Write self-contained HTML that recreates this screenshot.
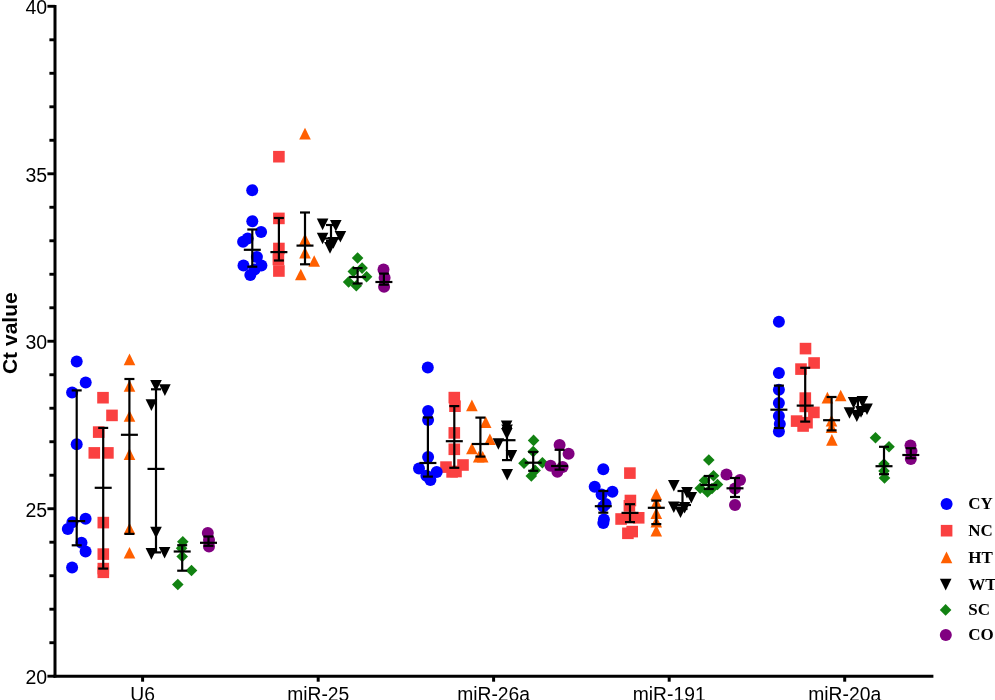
<!DOCTYPE html>
<html><head><meta charset="utf-8"><title>Ct value chart</title>
<style>
html,body{margin:0;padding:0;background:#fff;}
body{width:995px;height:700px;overflow:hidden;font-family:"Liberation Sans",sans-serif;}
svg{display:block;will-change:transform;}
</style></head>
<body>
<svg width="995" height="700" viewBox="0 0 995 700">
<rect width="995" height="700" fill="#fff"/>
<g stroke="#000" stroke-width="3" fill="none" stroke-linecap="butt">
<line x1="55" y1="5" x2="55" y2="677.4"/>
<line x1="53.5" y1="676.2" x2="933.4" y2="676.2"/>
</g>
<g stroke="#000" stroke-width="2.9" fill="none">
<line x1="47.4" y1="6.3" x2="55" y2="6.3"/>
<line x1="49.4" y1="39.8" x2="55" y2="39.8"/>
<line x1="49.4" y1="73.29" x2="55" y2="73.29"/>
<line x1="49.4" y1="106.79" x2="55" y2="106.79"/>
<line x1="49.4" y1="140.28" x2="55" y2="140.28"/>
<line x1="47.4" y1="173.78" x2="55" y2="173.78"/>
<line x1="49.4" y1="207.27" x2="55" y2="207.27"/>
<line x1="49.4" y1="240.77" x2="55" y2="240.77"/>
<line x1="49.4" y1="274.26" x2="55" y2="274.26"/>
<line x1="49.4" y1="307.76" x2="55" y2="307.76"/>
<line x1="47.4" y1="341.25" x2="55" y2="341.25"/>
<line x1="49.4" y1="374.75" x2="55" y2="374.75"/>
<line x1="49.4" y1="408.24" x2="55" y2="408.24"/>
<line x1="49.4" y1="441.74" x2="55" y2="441.74"/>
<line x1="49.4" y1="475.23" x2="55" y2="475.23"/>
<line x1="47.4" y1="508.73" x2="55" y2="508.73"/>
<line x1="49.4" y1="542.22" x2="55" y2="542.22"/>
<line x1="49.4" y1="575.72" x2="55" y2="575.72"/>
<line x1="49.4" y1="609.21" x2="55" y2="609.21"/>
<line x1="49.4" y1="642.71" x2="55" y2="642.71"/>
<line x1="47.4" y1="676.2" x2="55" y2="676.2"/>
<line x1="142.6" y1="676.2" x2="142.6" y2="681.7" stroke-width="3"/>
<line x1="318.2" y1="676.2" x2="318.2" y2="681.7" stroke-width="3"/>
<line x1="493.6" y1="676.2" x2="493.6" y2="681.7" stroke-width="3"/>
<line x1="669.2" y1="676.2" x2="669.2" y2="681.7" stroke-width="3"/>
<line x1="844.7" y1="676.2" x2="844.7" y2="681.7" stroke-width="3"/>
</g>
<g font-family="Liberation Sans" font-size="19.5" fill="#000" text-anchor="end">
<text x="47.2" y="14.3">40</text>
<text x="47.2" y="181.78">35</text>
<text x="47.2" y="349.25">30</text>
<text x="47.2" y="516.73">25</text>
<text x="47.2" y="684.2">20</text>
</g>
<g font-family="Liberation Sans" font-size="19.3" fill="#000" text-anchor="middle">
<text x="142.6" y="701">U6</text>
<text x="318.2" y="701">miR-25</text>
<text x="493.6" y="701">miR-26a</text>
<text x="669.2" y="701">miR-191</text>
<text x="844.7" y="701">miR-20a</text>
</g>
<text transform="translate(16.6,333.2) rotate(-90)" font-family="Liberation Sans" font-weight="bold" font-size="21" text-anchor="middle">Ct value</text>
<rect x="97.2" y="391.9" width="11.6" height="11.6" fill="#fa4040"/>
<rect x="106.2" y="409.6" width="11.6" height="11.6" fill="#fa4040"/>
<rect x="92.9" y="426.3" width="11.6" height="11.6" fill="#fa4040"/>
<rect x="88.5" y="447.1" width="11.6" height="11.6" fill="#fa4040"/>
<rect x="102.1" y="447.1" width="11.6" height="11.6" fill="#fa4040"/>
<rect x="97.5" y="516.8" width="11.6" height="11.6" fill="#fa4040"/>
<rect x="97.5" y="548.3" width="11.6" height="11.6" fill="#fa4040"/>
<rect x="97.5" y="562.8" width="11.6" height="11.6" fill="#fa4040"/>
<rect x="97.5" y="566.5" width="11.6" height="11.6" fill="#fa4040"/>
<g stroke="#000" stroke-width="2.2">
<line x1="103.2" y1="427.9" x2="103.2" y2="568.6"/>
<line x1="98.2" y1="427.9" x2="108.2" y2="427.9"/>
<line x1="98.2" y1="568.6" x2="108.2" y2="568.6"/>
<line x1="94.7" y1="487.8" x2="111.7" y2="487.8"/>
</g>
<circle cx="76.7" cy="361.4" r="6" fill="#0000ff"/>
<circle cx="85.7" cy="382.6" r="6" fill="#0000ff"/>
<circle cx="72.1" cy="392.6" r="6" fill="#0000ff"/>
<circle cx="76.7" cy="444.3" r="6" fill="#0000ff"/>
<circle cx="85.6" cy="518.8" r="6" fill="#0000ff"/>
<circle cx="72.4" cy="522.3" r="6" fill="#0000ff"/>
<circle cx="67.8" cy="529.1" r="6" fill="#0000ff"/>
<circle cx="81.5" cy="542.8" r="6" fill="#0000ff"/>
<circle cx="85.6" cy="551.6" r="6" fill="#0000ff"/>
<circle cx="72.1" cy="567.6" r="6" fill="#0000ff"/>
<g stroke="#000" stroke-width="2.2">
<line x1="76.7" y1="390.4" x2="76.7" y2="545.3"/>
<line x1="71.7" y1="390.4" x2="81.7" y2="390.4"/>
<line x1="71.7" y1="545.3" x2="81.7" y2="545.3"/>
<line x1="68.2" y1="521.1" x2="85.2" y2="521.1"/>
</g>
<polygon points="129.5,353.6 135.3,365.2 123.7,365.2" fill="#ff5f00"/>
<polygon points="129.5,380.1 135.3,391.7 123.7,391.7" fill="#ff5f00"/>
<polygon points="129.5,410.2 135.3,421.8 123.7,421.8" fill="#ff5f00"/>
<polygon points="129.5,448.3 135.3,459.9 123.7,459.9" fill="#ff5f00"/>
<polygon points="129.5,522.7 135.3,534.3 123.7,534.3" fill="#ff5f00"/>
<polygon points="129.5,547 135.3,558.6 123.7,558.6" fill="#ff5f00"/>
<g stroke="#000" stroke-width="2.2">
<line x1="129.4" y1="379" x2="129.4" y2="533.9"/>
<line x1="124.4" y1="379" x2="134.4" y2="379"/>
<line x1="124.4" y1="533.9" x2="134.4" y2="533.9"/>
<line x1="120.9" y1="434.8" x2="137.9" y2="434.8"/>
</g>
<polygon points="150.2,380 161.8,380 156,391.6" fill="#000000"/>
<polygon points="159.1,384.3 170.7,384.3 164.9,395.9" fill="#000000"/>
<polygon points="145.6,399.3 157.2,399.3 151.4,410.9" fill="#000000"/>
<polygon points="150.2,526.7 161.8,526.7 156,538.3" fill="#000000"/>
<polygon points="145.6,548.1 157.2,548.1 151.4,559.7" fill="#000000"/>
<polygon points="158.8,547 170.4,547 164.6,558.6" fill="#000000"/>
<g stroke="#000" stroke-width="2.2">
<line x1="156" y1="389.3" x2="156" y2="552.4"/>
<line x1="151" y1="389.3" x2="161" y2="389.3"/>
<line x1="151" y1="552.4" x2="161" y2="552.4"/>
<line x1="147.5" y1="468.9" x2="164.5" y2="468.9"/>
</g>
<polygon points="182.8,536 188.6,541.8 182.8,547.6 177,541.8" fill="#128212"/>
<polygon points="181.6,542.5 187.4,548.3 181.6,554.1 175.8,548.3" fill="#128212"/>
<polygon points="182.2,550.7 188,556.5 182.2,562.3 176.4,556.5" fill="#128212"/>
<polygon points="191.5,564.7 197.3,570.5 191.5,576.3 185.7,570.5" fill="#128212"/>
<polygon points="177.8,578.7 183.6,584.5 177.8,590.3 172,584.5" fill="#128212"/>
<g stroke="#000" stroke-width="2.2">
<line x1="182.2" y1="545.2" x2="182.2" y2="570.7"/>
<line x1="177.2" y1="545.2" x2="187.2" y2="545.2"/>
<line x1="177.2" y1="570.7" x2="187.2" y2="570.7"/>
<line x1="173.7" y1="551.5" x2="190.7" y2="551.5"/>
</g>
<circle cx="207.8" cy="533" r="6" fill="#800080"/>
<circle cx="209" cy="540" r="6" fill="#800080"/>
<circle cx="209" cy="546.5" r="6" fill="#800080"/>
<g stroke="#000" stroke-width="2.2">
<line x1="208.5" y1="536.5" x2="208.5" y2="545.8"/>
<line x1="203.5" y1="536.5" x2="213.5" y2="536.5"/>
<line x1="203.5" y1="545.8" x2="213.5" y2="545.8"/>
<line x1="200" y1="542.8" x2="217" y2="542.8"/>
</g>
<rect x="273.1" y="150.9" width="11.6" height="11.6" fill="#fa4040"/>
<rect x="273.1" y="212.6" width="11.6" height="11.6" fill="#fa4040"/>
<rect x="273.1" y="242.7" width="11.6" height="11.6" fill="#fa4040"/>
<rect x="272.6" y="253.7" width="11.6" height="11.6" fill="#fa4040"/>
<rect x="273.1" y="265.2" width="11.6" height="11.6" fill="#fa4040"/>
<g stroke="#000" stroke-width="2.2">
<line x1="278.9" y1="218" x2="278.9" y2="260.5"/>
<line x1="273.9" y1="218" x2="283.9" y2="218"/>
<line x1="273.9" y1="260.5" x2="283.9" y2="260.5"/>
<line x1="270.4" y1="252.1" x2="287.4" y2="252.1"/>
</g>
<circle cx="252.2" cy="190.2" r="6" fill="#0000ff"/>
<circle cx="252.3" cy="221.2" r="6" fill="#0000ff"/>
<circle cx="261.1" cy="231.9" r="6" fill="#0000ff"/>
<circle cx="247.7" cy="238.6" r="6" fill="#0000ff"/>
<circle cx="243.1" cy="241.8" r="6" fill="#0000ff"/>
<circle cx="256.9" cy="256.9" r="6" fill="#0000ff"/>
<circle cx="261.4" cy="265.4" r="6" fill="#0000ff"/>
<circle cx="243.5" cy="265.4" r="6" fill="#0000ff"/>
<circle cx="254.6" cy="269.4" r="6" fill="#0000ff"/>
<circle cx="250.3" cy="275.1" r="6" fill="#0000ff"/>
<g stroke="#000" stroke-width="2.2">
<line x1="252.3" y1="229.5" x2="252.3" y2="266.7"/>
<line x1="247.3" y1="229.5" x2="257.3" y2="229.5"/>
<line x1="247.3" y1="266.7" x2="257.3" y2="266.7"/>
<line x1="243.8" y1="249.8" x2="260.8" y2="249.8"/>
</g>
<polygon points="305,127.8 310.8,139.4 299.2,139.4" fill="#ff5f00"/>
<polygon points="305,233.4 310.8,245 299.2,245" fill="#ff5f00"/>
<polygon points="305,246.9 310.8,258.5 299.2,258.5" fill="#ff5f00"/>
<polygon points="314.2,255.2 320,266.8 308.4,266.8" fill="#ff5f00"/>
<polygon points="300.8,268.7 306.6,280.3 295,280.3" fill="#ff5f00"/>
<g stroke="#000" stroke-width="2.2">
<line x1="305" y1="212.5" x2="305" y2="264.3"/>
<line x1="300" y1="212.5" x2="310" y2="212.5"/>
<line x1="300" y1="264.3" x2="310" y2="264.3"/>
<line x1="296.5" y1="245.6" x2="313.5" y2="245.6"/>
</g>
<polygon points="316.8,218.6 328.4,218.6 322.6,230.2" fill="#000000"/>
<polygon points="330,220 341.6,220 335.8,231.6" fill="#000000"/>
<polygon points="316.8,232.7 328.4,232.7 322.6,244.3" fill="#000000"/>
<polygon points="334.6,230.9 346.2,230.9 340.4,242.5" fill="#000000"/>
<polygon points="324.2,242.1 335.8,242.1 330,253.7" fill="#000000"/>
<polygon points="327.6,237.1 339.2,237.1 333.4,248.7" fill="#000000"/>
<g stroke="#000" stroke-width="2.2">
<line x1="331" y1="225" x2="331" y2="241"/>
<line x1="326" y1="225" x2="336" y2="225"/>
<line x1="326" y1="241" x2="336" y2="241"/>
<line x1="322.5" y1="238.5" x2="339.5" y2="238.5"/>
</g>
<polygon points="357.6,252.2 363.4,258 357.6,263.8 351.8,258" fill="#128212"/>
<polygon points="362.1,262.3 367.9,268.1 362.1,273.9 356.3,268.1" fill="#128212"/>
<polygon points="353.3,265.7 359.1,271.5 353.3,277.3 347.5,271.5" fill="#128212"/>
<polygon points="366.6,271 372.4,276.8 366.6,282.6 360.8,276.8" fill="#128212"/>
<polygon points="348.6,276.2 354.4,282 348.6,287.8 342.8,282" fill="#128212"/>
<polygon points="356.3,280 362.1,285.8 356.3,291.6 350.5,285.8" fill="#128212"/>
<g stroke="#000" stroke-width="2.2">
<line x1="357.6" y1="268.1" x2="357.6" y2="283.5"/>
<line x1="352.6" y1="268.1" x2="362.6" y2="268.1"/>
<line x1="352.6" y1="283.5" x2="362.6" y2="283.5"/>
<line x1="349.1" y1="277" x2="366.1" y2="277"/>
</g>
<circle cx="383.5" cy="269.6" r="6" fill="#800080"/>
<circle cx="384.6" cy="277.7" r="6" fill="#800080"/>
<circle cx="384.1" cy="286.7" r="6" fill="#800080"/>
<g stroke="#000" stroke-width="2.2">
<line x1="383.9" y1="273.6" x2="383.9" y2="284.7"/>
<line x1="378.9" y1="273.6" x2="388.9" y2="273.6"/>
<line x1="378.9" y1="284.7" x2="388.9" y2="284.7"/>
<line x1="375.4" y1="282" x2="392.4" y2="282"/>
</g>
<rect x="448.5" y="391.8" width="11.6" height="11.6" fill="#fa4040"/>
<rect x="449.2" y="400.4" width="11.6" height="11.6" fill="#fa4040"/>
<rect x="448.5" y="427.1" width="11.6" height="11.6" fill="#fa4040"/>
<rect x="448.5" y="443.5" width="11.6" height="11.6" fill="#fa4040"/>
<rect x="440.2" y="461.3" width="11.6" height="11.6" fill="#fa4040"/>
<rect x="457.2" y="459.2" width="11.6" height="11.6" fill="#fa4040"/>
<rect x="446.3" y="466.1" width="11.6" height="11.6" fill="#fa4040"/>
<rect x="450.2" y="465.7" width="11.6" height="11.6" fill="#fa4040"/>
<g stroke="#000" stroke-width="2.2">
<line x1="454.3" y1="406.1" x2="454.3" y2="467.8"/>
<line x1="449.3" y1="406.1" x2="459.3" y2="406.1"/>
<line x1="449.3" y1="467.8" x2="459.3" y2="467.8"/>
<line x1="445.8" y1="441.2" x2="462.8" y2="441.2"/>
</g>
<circle cx="427.8" cy="367.4" r="6" fill="#0000ff"/>
<circle cx="428.1" cy="411.1" r="6" fill="#0000ff"/>
<circle cx="428.1" cy="420" r="6" fill="#0000ff"/>
<circle cx="428.1" cy="457.1" r="6" fill="#0000ff"/>
<circle cx="419" cy="468.6" r="6" fill="#0000ff"/>
<circle cx="436.7" cy="472.1" r="6" fill="#0000ff"/>
<circle cx="426.4" cy="475.7" r="6" fill="#0000ff"/>
<circle cx="430.4" cy="480" r="6" fill="#0000ff"/>
<g stroke="#000" stroke-width="2.2">
<line x1="427.9" y1="417.5" x2="427.9" y2="476.6"/>
<line x1="422.9" y1="417.5" x2="432.9" y2="417.5"/>
<line x1="422.9" y1="476.6" x2="432.9" y2="476.6"/>
<line x1="419.4" y1="463" x2="436.4" y2="463"/>
</g>
<polygon points="471.9,399.6 477.7,411.2 466.1,411.2" fill="#ff5f00"/>
<polygon points="485.7,416.3 491.5,427.9 479.9,427.9" fill="#ff5f00"/>
<polygon points="489.9,433.4 495.7,445 484.1,445" fill="#ff5f00"/>
<polygon points="471.9,442.7 477.7,454.3 466.1,454.3" fill="#ff5f00"/>
<polygon points="478.7,451 484.5,462.6 472.9,462.6" fill="#ff5f00"/>
<polygon points="482.7,451 488.5,462.6 476.9,462.6" fill="#ff5f00"/>
<g stroke="#000" stroke-width="2.2">
<line x1="480.4" y1="417.6" x2="480.4" y2="456.6"/>
<line x1="475.4" y1="417.6" x2="485.4" y2="417.6"/>
<line x1="475.4" y1="456.6" x2="485.4" y2="456.6"/>
<line x1="471.9" y1="444" x2="488.9" y2="444"/>
</g>
<polygon points="500.8,420.4 512.4,420.4 506.6,432" fill="#000000"/>
<polygon points="501.3,424.5 512.9,424.5 507.1,436.1" fill="#000000"/>
<polygon points="501,428 512.6,428 506.8,439.6" fill="#000000"/>
<polygon points="492.6,438.2 504.2,438.2 498.4,449.8" fill="#000000"/>
<polygon points="505.6,450 517.2,450 511.4,461.6" fill="#000000"/>
<polygon points="501.4,469 513,469 507.2,480.6" fill="#000000"/>
<g stroke="#000" stroke-width="2.2">
<line x1="507" y1="428" x2="507" y2="460.1"/>
<line x1="502" y1="428" x2="512" y2="428"/>
<line x1="502" y1="460.1" x2="512" y2="460.1"/>
<line x1="498.5" y1="440.2" x2="515.5" y2="440.2"/>
</g>
<polygon points="533.6,434.6 539.4,440.4 533.6,446.2 527.8,440.4" fill="#128212"/>
<polygon points="533.2,445.8 539,451.6 533.2,457.4 527.4,451.6" fill="#128212"/>
<polygon points="524,457.5 529.8,463.3 524,469.1 518.2,463.3" fill="#128212"/>
<polygon points="542.4,456.9 548.2,462.7 542.4,468.5 536.6,462.7" fill="#128212"/>
<polygon points="535.1,464.6 540.9,470.4 535.1,476.2 529.3,470.4" fill="#128212"/>
<polygon points="531.3,470.2 537.1,476 531.3,481.8 525.5,476" fill="#128212"/>
<g stroke="#000" stroke-width="2.2">
<line x1="533.2" y1="452" x2="533.2" y2="470.8"/>
<line x1="528.2" y1="452" x2="538.2" y2="452"/>
<line x1="528.2" y1="470.8" x2="538.2" y2="470.8"/>
<line x1="524.7" y1="462.7" x2="541.7" y2="462.7"/>
</g>
<circle cx="559.6" cy="445.1" r="6" fill="#800080"/>
<circle cx="568.6" cy="453.7" r="6" fill="#800080"/>
<circle cx="550.6" cy="465.7" r="6" fill="#800080"/>
<circle cx="562.6" cy="467" r="6" fill="#800080"/>
<circle cx="557.4" cy="471.7" r="6" fill="#800080"/>
<g stroke="#000" stroke-width="2.2">
<line x1="559.6" y1="449.8" x2="559.6" y2="469.6"/>
<line x1="554.6" y1="449.8" x2="564.6" y2="449.8"/>
<line x1="554.6" y1="469.6" x2="564.6" y2="469.6"/>
<line x1="551.1" y1="466" x2="568.1" y2="466"/>
</g>
<rect x="624.1" y="467.3" width="11.6" height="11.6" fill="#fa4040"/>
<rect x="624.6" y="494.7" width="11.6" height="11.6" fill="#fa4040"/>
<rect x="623.6" y="500" width="11.6" height="11.6" fill="#fa4040"/>
<rect x="615.3" y="513.2" width="11.6" height="11.6" fill="#fa4040"/>
<rect x="632.9" y="512" width="11.6" height="11.6" fill="#fa4040"/>
<rect x="624.2" y="511.7" width="11.6" height="11.6" fill="#fa4040"/>
<rect x="622.1" y="527.5" width="11.6" height="11.6" fill="#fa4040"/>
<rect x="626.4" y="525.8" width="11.6" height="11.6" fill="#fa4040"/>
<g stroke="#000" stroke-width="2.2">
<line x1="630" y1="504.2" x2="630" y2="522.1"/>
<line x1="625" y1="504.2" x2="635" y2="504.2"/>
<line x1="625" y1="522.1" x2="635" y2="522.1"/>
<line x1="621.5" y1="512.9" x2="638.5" y2="512.9"/>
</g>
<circle cx="603.3" cy="469.3" r="6" fill="#0000ff"/>
<circle cx="594.7" cy="486.8" r="6" fill="#0000ff"/>
<circle cx="612.4" cy="491.8" r="6" fill="#0000ff"/>
<circle cx="601.6" cy="494.4" r="6" fill="#0000ff"/>
<circle cx="605.6" cy="504.1" r="6" fill="#0000ff"/>
<circle cx="603.3" cy="506.5" r="6" fill="#0000ff"/>
<circle cx="603.9" cy="519.5" r="6" fill="#0000ff"/>
<circle cx="603.3" cy="523" r="6" fill="#0000ff"/>
<g stroke="#000" stroke-width="2.2">
<line x1="603.3" y1="491" x2="603.3" y2="512.7"/>
<line x1="598.3" y1="491" x2="608.3" y2="491"/>
<line x1="598.3" y1="512.7" x2="608.3" y2="512.7"/>
<line x1="594.8" y1="506.2" x2="611.8" y2="506.2"/>
</g>
<polygon points="656.3,488.5 662.1,500.1 650.5,500.1" fill="#ff5f00"/>
<polygon points="656.3,496.9 662.1,508.5 650.5,508.5" fill="#ff5f00"/>
<polygon points="656.3,507.4 662.1,519 650.5,519" fill="#ff5f00"/>
<polygon points="656.3,516 662.1,527.6 650.5,527.6" fill="#ff5f00"/>
<polygon points="656.3,525 662.1,536.6 650.5,536.6" fill="#ff5f00"/>
<g stroke="#000" stroke-width="2.2">
<line x1="656.3" y1="500.6" x2="656.3" y2="524.1"/>
<line x1="651.3" y1="500.6" x2="661.3" y2="500.6"/>
<line x1="651.3" y1="524.1" x2="661.3" y2="524.1"/>
<line x1="647.8" y1="507.8" x2="664.8" y2="507.8"/>
</g>
<polygon points="668,480 679.6,480 673.8,491.6" fill="#000000"/>
<polygon points="681.2,487 692.8,487 687,498.6" fill="#000000"/>
<polygon points="685.5,492 697.1,492 691.3,503.6" fill="#000000"/>
<polygon points="668,501.5 679.6,501.5 673.8,513.1" fill="#000000"/>
<polygon points="674.7,506.5 686.3,506.5 680.5,518.1" fill="#000000"/>
<polygon points="678.8,502 690.4,502 684.6,513.6" fill="#000000"/>
<g stroke="#000" stroke-width="2.2">
<line x1="682.5" y1="491" x2="682.5" y2="509"/>
<line x1="677.5" y1="491" x2="687.5" y2="491"/>
<line x1="677.5" y1="509" x2="687.5" y2="509"/>
<line x1="674" y1="505" x2="691" y2="505"/>
</g>
<polygon points="708.8,454.2 714.6,460 708.8,465.8 703,460" fill="#128212"/>
<polygon points="713.5,470 719.3,475.8 713.5,481.6 707.7,475.8" fill="#128212"/>
<polygon points="704.5,474.7 710.3,480.5 704.5,486.3 698.7,480.5" fill="#128212"/>
<polygon points="717.5,478.7 723.3,484.5 717.5,490.3 711.7,484.5" fill="#128212"/>
<polygon points="712,482.7 717.8,488.5 712,494.3 706.2,488.5" fill="#128212"/>
<polygon points="700.2,482.4 706,488.2 700.2,494 694.4,488.2" fill="#128212"/>
<polygon points="707.5,486.2 713.3,492 707.5,497.8 701.7,492" fill="#128212"/>
<g stroke="#000" stroke-width="2.2">
<line x1="708.8" y1="476" x2="708.8" y2="489"/>
<line x1="703.8" y1="476" x2="713.8" y2="476"/>
<line x1="703.8" y1="489" x2="713.8" y2="489"/>
<line x1="700.3" y1="485" x2="717.3" y2="485"/>
</g>
<circle cx="726.5" cy="474.5" r="6" fill="#800080"/>
<circle cx="740" cy="480" r="6" fill="#800080"/>
<circle cx="735" cy="488.5" r="6" fill="#800080"/>
<circle cx="735" cy="505" r="6" fill="#800080"/>
<g stroke="#000" stroke-width="2.2">
<line x1="735" y1="478" x2="735" y2="497"/>
<line x1="730" y1="478" x2="740" y2="478"/>
<line x1="730" y1="497" x2="740" y2="497"/>
<line x1="726.5" y1="488.3" x2="743.5" y2="488.3"/>
</g>
<rect x="799.7" y="342.8" width="11.6" height="11.6" fill="#fa4040"/>
<rect x="808.3" y="357.2" width="11.6" height="11.6" fill="#fa4040"/>
<rect x="795.2" y="363.3" width="11.6" height="11.6" fill="#fa4040"/>
<rect x="799.5" y="392.3" width="11.6" height="11.6" fill="#fa4040"/>
<rect x="799.5" y="400.6" width="11.6" height="11.6" fill="#fa4040"/>
<rect x="808.1" y="406.6" width="11.6" height="11.6" fill="#fa4040"/>
<rect x="790.8" y="415.3" width="11.6" height="11.6" fill="#fa4040"/>
<rect x="801.2" y="416.9" width="11.6" height="11.6" fill="#fa4040"/>
<rect x="797.3" y="420.2" width="11.6" height="11.6" fill="#fa4040"/>
<g stroke="#000" stroke-width="2.2">
<line x1="805.2" y1="367.8" x2="805.2" y2="421.6"/>
<line x1="800.2" y1="367.8" x2="810.2" y2="367.8"/>
<line x1="800.2" y1="421.6" x2="810.2" y2="421.6"/>
<line x1="796.7" y1="405.6" x2="813.7" y2="405.6"/>
</g>
<circle cx="778.9" cy="321.7" r="6" fill="#0000ff"/>
<circle cx="778.9" cy="373.1" r="6" fill="#0000ff"/>
<circle cx="778.9" cy="389.7" r="6" fill="#0000ff"/>
<circle cx="778.9" cy="402.9" r="6" fill="#0000ff"/>
<circle cx="778.9" cy="416" r="6" fill="#0000ff"/>
<circle cx="779.8" cy="424" r="6" fill="#0000ff"/>
<circle cx="778.9" cy="431.4" r="6" fill="#0000ff"/>
<g stroke="#000" stroke-width="2.2">
<line x1="778.9" y1="385.6" x2="778.9" y2="428"/>
<line x1="773.9" y1="385.6" x2="783.9" y2="385.6"/>
<line x1="773.9" y1="428" x2="783.9" y2="428"/>
<line x1="770.4" y1="409.7" x2="787.4" y2="409.7"/>
</g>
<polygon points="827.4,391.8 833.2,403.4 821.6,403.4" fill="#ff5f00"/>
<polygon points="840.7,389.7 846.5,401.3 834.9,401.3" fill="#ff5f00"/>
<polygon points="831.5,414.8 837.3,426.4 825.7,426.4" fill="#ff5f00"/>
<polygon points="831.5,421.3 837.3,432.9 825.7,432.9" fill="#ff5f00"/>
<polygon points="831.9,434.1 837.7,445.7 826.1,445.7" fill="#ff5f00"/>
<g stroke="#000" stroke-width="2.2">
<line x1="831.6" y1="397" x2="831.6" y2="430.4"/>
<line x1="826.6" y1="397" x2="836.6" y2="397"/>
<line x1="826.6" y1="430.4" x2="836.6" y2="430.4"/>
<line x1="823.1" y1="420.2" x2="840.1" y2="420.2"/>
</g>
<polygon points="847.8,397 859.4,397 853.6,408.6" fill="#000000"/>
<polygon points="856.6,395.9 868.2,395.9 862.4,407.5" fill="#000000"/>
<polygon points="861.2,403.4 872.8,403.4 867,415" fill="#000000"/>
<polygon points="843.7,407.2 855.3,407.2 849.5,418.8" fill="#000000"/>
<polygon points="851,410.4 862.6,410.4 856.8,422" fill="#000000"/>
<polygon points="855.2,406.1 866.8,406.1 861,417.7" fill="#000000"/>
<g stroke="#000" stroke-width="2.2">
<line x1="857.9" y1="399" x2="857.9" y2="414"/>
<line x1="852.9" y1="399" x2="862.9" y2="399"/>
<line x1="852.9" y1="414" x2="862.9" y2="414"/>
<line x1="849.4" y1="411" x2="866.4" y2="411"/>
</g>
<polygon points="875.5,432 881.3,437.8 875.5,443.6 869.7,437.8" fill="#128212"/>
<polygon points="889,441 894.8,446.8 889,452.6 883.2,446.8" fill="#128212"/>
<polygon points="884,458.2 889.8,464 884,469.8 878.2,464" fill="#128212"/>
<polygon points="884,465.2 889.8,471 884,476.8 878.2,471" fill="#128212"/>
<polygon points="884.5,472.2 890.3,478 884.5,483.8 878.7,478" fill="#128212"/>
<g stroke="#000" stroke-width="2.2">
<line x1="884" y1="446.8" x2="884" y2="474.2"/>
<line x1="879" y1="446.8" x2="889" y2="446.8"/>
<line x1="879" y1="474.2" x2="889" y2="474.2"/>
<line x1="875.5" y1="466.2" x2="892.5" y2="466.2"/>
</g>
<circle cx="910.5" cy="445.5" r="6" fill="#800080"/>
<circle cx="911.5" cy="451" r="6" fill="#800080"/>
<circle cx="910.8" cy="459" r="6" fill="#800080"/>
<g stroke="#000" stroke-width="2.2">
<line x1="910.8" y1="448.2" x2="910.8" y2="458.2"/>
<line x1="905.8" y1="448.2" x2="915.8" y2="448.2"/>
<line x1="905.8" y1="458.2" x2="915.8" y2="458.2"/>
<line x1="902.3" y1="455" x2="919.3" y2="455"/>
</g>
<circle cx="946.6" cy="503.9" r="6" fill="#0000ff"/>
<rect x="940.8" y="524.9" width="11.6" height="11.6" fill="#fa4040"/>
<polygon points="946.5,551.6 952.3,563.2 940.7,563.2" fill="#ff5f00"/>
<polygon points="939.9,578.8 951.5,578.8 945.7,590.4" fill="#000000"/>
<polygon points="945.6,604.1 951.4,609.9 945.6,615.7 939.8,609.9" fill="#128212"/>
<circle cx="945.8" cy="634.9" r="6" fill="#800080"/>
<g font-family="Liberation Serif" font-weight="bold" font-size="17" fill="#000">
<text x="968.3" y="509.4">CY</text>
<text x="968.3" y="536">NC</text>
<text x="968.3" y="562.9">HT</text>
<text x="968.3" y="590.4">WT</text>
<text x="968.3" y="615">SC</text>
<text x="968.3" y="640.4">CO</text>
</g>
</svg>
</body></html>
